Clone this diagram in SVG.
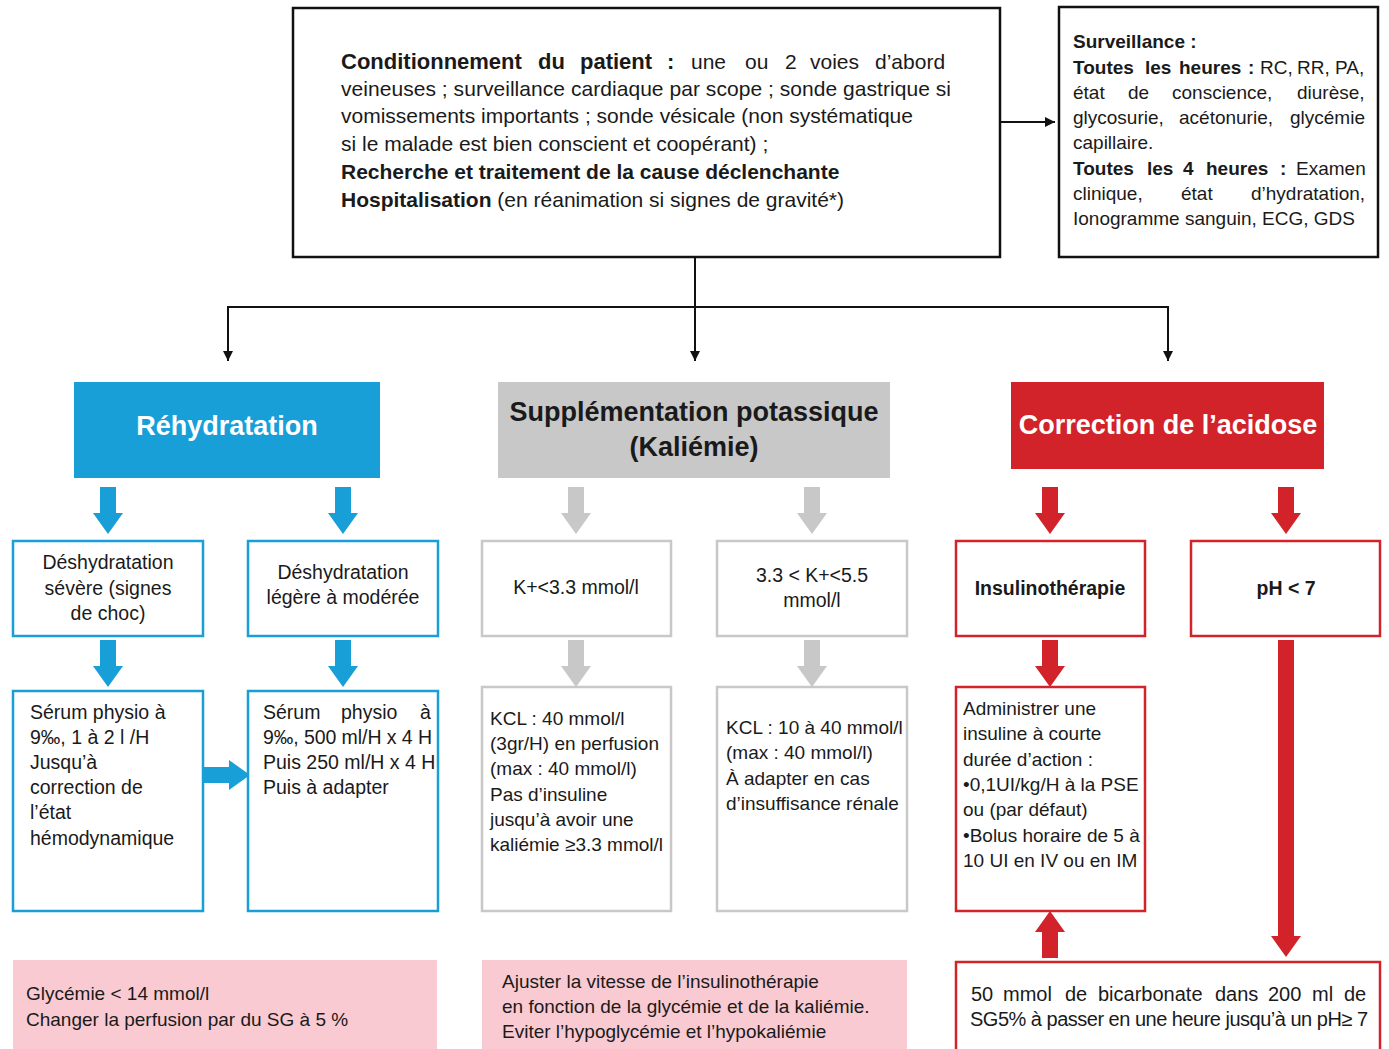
<svg xmlns="http://www.w3.org/2000/svg" xmlns:xlink="http://www.w3.org/1999/xlink" width="1389" height="1049" viewBox="0 0 1389 1049">
<style>
text{font-family:"Liberation Sans",Arial,sans-serif;fill:#1a1a1a}
.b{font-weight:bold}
.m{font-size:21px}
.s{font-size:19px}
.t{font-size:19.5px}
.u{font-size:20px}
.c{text-anchor:middle}
.hd{font-size:27px;font-weight:bold}
.wh{fill:#fff}
.frame{fill:#fff;stroke:#111;stroke-width:2.5}
.bl{fill:#fff;stroke:#189fd8;stroke-width:2.5}
.gr{fill:#fff;stroke:#c8c8c8;stroke-width:2.5}
.rd{fill:#fff;stroke:#d2232a;stroke-width:2.5}
.pk{fill:#f9cad1}
.con{fill:none;stroke:#111;stroke-width:2}
.fb{fill:#189fd8}.fg{fill:#c8c8c8}.fr{fill:#d2232a}
</style>
<defs>
<marker id="ah" viewBox="0 0 10 10" refX="10" refY="5" markerWidth="5" markerHeight="5" markerUnits="strokeWidth" orient="auto">
<path d="M0,0 L10,5 L0,10 Z" fill="#111"/>
</marker>
<path id="dn" d="M-8,0 H8 V26 H15 L0,47 L-15,26 H-8 Z"/>
</defs>
<rect width="1389" height="1049" fill="#fff"/>

<g id="connectors">
<line class="con" x1="1000" y1="122" x2="1055" y2="122" marker-end="url(#ah)"/>
<line class="con" x1="695" y1="257" x2="695" y2="361" marker-end="url(#ah)"/>
<polyline class="con" points="228,307 1168,307 1168,361" marker-end="url(#ah)"/>
<line class="con" x1="228" y1="306" x2="228" y2="361" marker-end="url(#ah)"/>
<use href="#dn" x="108" y="487" class="fb"/>
<use href="#dn" x="343" y="487" class="fb"/>
<use href="#dn" x="108" y="640" class="fb"/>
<use href="#dn" x="343" y="640" class="fb"/>
<use href="#dn" transform="translate(203,775) rotate(-90)" class="fb"/>
<use href="#dn" x="576" y="487" class="fg"/>
<use href="#dn" x="812" y="487" class="fg"/>
<use href="#dn" x="576" y="640" class="fg"/>
<use href="#dn" x="812" y="640" class="fg"/>
<use href="#dn" x="1050" y="487" class="fr"/>
<use href="#dn" x="1286" y="487" class="fr"/>
<use href="#dn" x="1050" y="640" class="fr"/>
<use href="#dn" transform="translate(1050,958) rotate(180)" class="fr"/>
<path class="fr" d="M1278,640 H1294 V936 H1301 L1286,957 L1271,936 H1278 Z"/>
</g>

<g id="conditionnement">
<rect class="frame" x="293" y="8" width="707" height="249"/>
<text class="m" y="69"><tspan class="b" x="341" font-size="22">Conditionnement</tspan><tspan class="b" x="538" font-size="22">du</tspan><tspan class="b" x="580" font-size="22">patient</tspan><tspan class="b" x="667" font-size="22">:</tspan><tspan x="691">une</tspan><tspan x="745">ou</tspan><tspan x="785">2</tspan><tspan x="810">voies</tspan><tspan x="875">d’abord</tspan></text>
<text class="m" x="341" y="96" textLength="610" lengthAdjust="spacing">veineuses ; surveillance cardiaque par scope ; sonde gastrique si</text>
<text class="m" x="341" y="123">vomissements importants ; sonde vésicale (non systématique</text>
<text class="m" x="341" y="151">si le malade est bien conscient et coopérant) ;</text>
<text class="m b" x="341" y="179">Recherche et traitement de la cause déclenchante</text>
<text class="m" x="341" y="207"><tspan class="b">Hospitalisation</tspan> (en réanimation si signes de gravité*)</text>
</g>

<g id="surveillance">
<rect class="frame" x="1059" y="7" width="319" height="250"/>
<text class="s b" x="1073" y="48">Surveillance :</text>
<text class="s" y="74"><tspan class="b" x="1073">Toutes</tspan><tspan class="b" x="1145">les</tspan><tspan class="b" x="1179">heures</tspan><tspan class="b" x="1248">:</tspan><tspan x="1260">RC,</tspan><tspan x="1297">RR,</tspan><tspan x="1335">PA,</tspan></text>
<text class="s" y="99"><tspan x="1073">état</tspan><tspan x="1128">de</tspan><tspan x="1172">conscience,</tspan><tspan x="1297">diurèse,</tspan></text>
<text class="s" y="124"><tspan x="1073">glycosurie,</tspan><tspan x="1179">acétonurie,</tspan><tspan x="1290">glycémie</tspan></text>
<text class="s" x="1073" y="149">capillaire.</text>
<text class="s" y="175"><tspan class="b" x="1073">Toutes</tspan><tspan class="b" x="1147">les</tspan><tspan class="b" x="1183">4</tspan><tspan class="b" x="1206">heures</tspan><tspan class="b" x="1280">:</tspan><tspan x="1296">Examen</tspan></text>
<text class="s" y="200"><tspan x="1073">clinique,</tspan><tspan x="1181">état</tspan><tspan x="1251">d’hydratation,</tspan></text>
<text class="s" x="1073" y="225">Ionogramme sanguin, ECG, GDS</text>
</g>

<g id="rehydratation">
<rect class="fb" x="74" y="382" width="306" height="96"/>
<text class="hd wh c" x="227" y="435">Réhydratation</text>
</g>
<g id="supplementation">
<rect class="fg" x="498" y="382" width="392" height="96"/>
<text class="hd c" x="694" y="421">Supplémentation potassique</text>
<text class="hd c" x="694" y="456">(Kaliémie)</text>
</g>
<g id="correction">
<rect class="fr" x="1011" y="382" width="313" height="87"/>
<text class="hd wh c" x="1168" y="434">Correction de l’acidose</text>
</g>

<g id="deshy-severe">
<rect class="bl" x="13" y="541" width="190" height="95"/>
<text class="t c" x="108" y="569">Déshydratation</text>
<text class="t c" x="108" y="595">sévère (signes</text>
<text class="t c" x="108" y="620">de choc)</text>
</g>
<g id="deshy-legere">
<rect class="bl" x="248" y="541" width="190" height="95"/>
<text class="t c" x="343" y="579">Déshydratation</text>
<text class="t c" x="343" y="604">légère à modérée</text>
</g>
<g id="serum-1">
<rect class="bl" x="13" y="691" width="190" height="220"/>
<text class="t" x="30" y="719">Sérum physio à</text>
<text class="t" x="30" y="744">9‰, 1 à 2 l /H</text>
<text class="t" x="30" y="769">Jusqu’à</text>
<text class="t" x="30" y="794">correction de</text>
<text class="t" x="30" y="819">l’état</text>
<text class="t" x="30" y="845">hémodynamique</text>
</g>
<g id="serum-2">
<rect class="bl" x="248" y="691" width="190" height="220"/>
<text class="t" y="719"><tspan x="263">Sérum</tspan><tspan x="341">physio</tspan><tspan x="420">à</tspan></text>
<text class="t" x="263" y="744" textLength="169" lengthAdjust="spacing">9‰, 500 ml/H x 4 H</text>
<text class="t" x="263" y="769">Puis 250 ml/H x 4 H</text>
<text class="t" x="263" y="794">Puis à adapter</text>
</g>

<g id="k-low">
<rect class="gr" x="482" y="541" width="189" height="95"/>
<text class="t c" x="576" y="594">K+&lt;3.3 mmol/l</text>
</g>
<g id="k-mid">
<rect class="gr" x="717" y="541" width="190" height="95"/>
<text class="t c" x="812" y="582">3.3 &lt; K+&lt;5.5</text>
<text class="t c" x="812" y="607">mmol/l</text>
</g>
<g id="kcl-1">
<rect class="gr" x="482" y="687" width="189" height="224"/>
<text class="s" x="490" y="725">KCL : 40 mmol/l</text>
<text class="s" x="490" y="750">(3gr/H) en perfusion</text>
<text class="s" x="490" y="775">(max : 40 mmol/l)</text>
<text class="s" x="490" y="801">Pas d’insuline</text>
<text class="s" x="490" y="826">jusqu’à avoir une</text>
<text class="s" x="490" y="851">kaliémie ≥3.3 mmol/l</text>
</g>
<g id="kcl-2">
<rect class="gr" x="717" y="687" width="190" height="224"/>
<text class="s" x="726" y="734">KCL : 10 à 40 mmol/l</text>
<text class="s" x="726" y="759">(max : 40 mmol/l)</text>
<text class="s" x="726" y="785">À adapter en cas</text>
<text class="s" x="726" y="810">d’insuffisance rénale</text>
</g>

<g id="insulinotherapie">
<rect class="rd" x="956" y="541" width="189" height="95"/>
<text class="t b c" x="1050" y="595">Insulinothérapie</text>
</g>
<g id="ph">
<rect class="rd" x="1191" y="541" width="189" height="95"/>
<text class="t b c" x="1286" y="595">pH &lt; 7</text>
</g>
<g id="insuline-admin">
<rect class="rd" x="956" y="687" width="189" height="224"/>
<text class="s" x="963" y="715">Administrer une</text>
<text class="s" x="963" y="740">insuline à courte</text>
<text class="s" x="963" y="766">durée d’action :</text>
<text class="s" x="963" y="791">•0,1UI/kg/H à la PSE</text>
<text class="s" x="963" y="816">ou (par défaut)</text>
<text class="s" x="963" y="842">•Bolus horaire de 5 à</text>
<text class="s" x="963" y="867">10 UI en IV ou en IM</text>
</g>
<g id="bicarbonate">
<rect class="rd" x="956" y="962" width="424" height="110"/>
<text class="u" y="1001"><tspan x="971">50</tspan><tspan x="1003">mmol</tspan><tspan x="1065">de</tspan><tspan x="1098">bicarbonate</tspan><tspan x="1215">dans</tspan><tspan x="1268">200</tspan><tspan x="1312">ml</tspan><tspan x="1344">de</tspan></text>
<text class="u" x="970" y="1026" textLength="398" lengthAdjust="spacing">SG5% à passer en une heure jusqu’à un pH≥ 7</text>
</g>

<g id="glycemie">
<rect class="pk" x="13" y="960" width="424" height="100"/>
<text class="s" x="26" y="1000">Glycémie &lt; 14 mmol/l</text>
<text class="s" x="26" y="1026">Changer la perfusion par du SG à 5 %</text>
</g>
<g id="ajuster">
<rect class="pk" x="482" y="960" width="425" height="100"/>
<text class="s" x="502" y="988">Ajuster la vitesse de l’insulinothérapie</text>
<text class="s" x="502" y="1013">en fonction de la glycémie et de la kaliémie.</text>
<text class="s" x="502" y="1038">Eviter l’hypoglycémie et l’hypokaliémie</text>
</g>
</svg>
